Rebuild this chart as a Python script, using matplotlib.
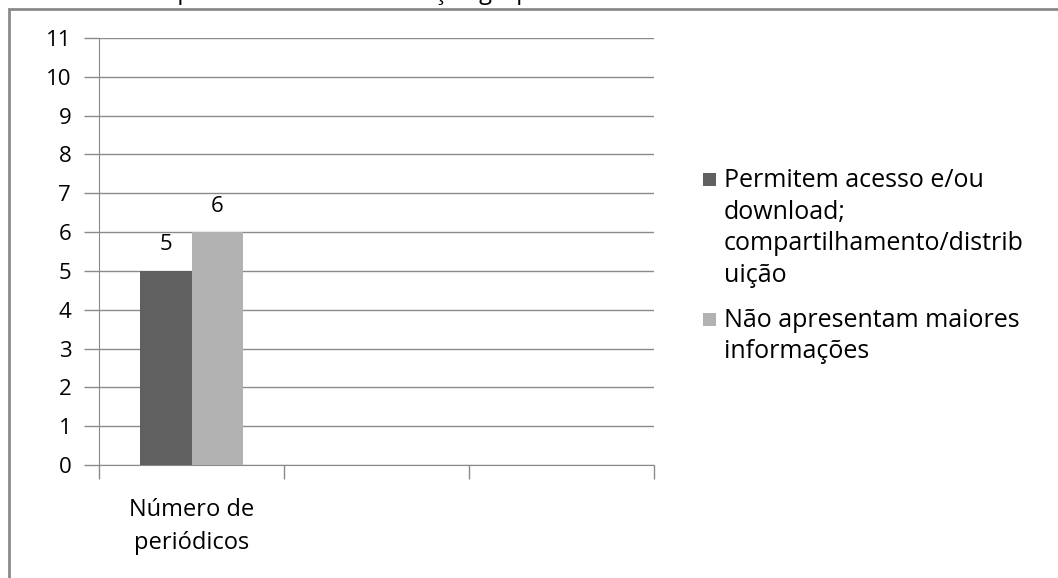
import matplotlib
matplotlib.use("Agg")
import matplotlib.pyplot as plt
from matplotlib.patches import Rectangle
import numpy as np

plt.rcParams["font.family"] = ["Open Sans", "DejaVu Sans"]

# data
categories = ["Número de\nperiódicos", "", ""]
series_names = [
    "Permitem acesso e/ou\ndownload;\ncompartilhamento/distrib\nuição",
    "Não apresentam maiores\ninformações",
]
series_values = [
    [5, np.nan, np.nan],
    [6, np.nan, np.nan],
]
series_colors = ["#606060", "#b2b2b2"]
y_ticks = list(range(0, 12))
title_text = "compartilhamento/distribuição grupo de títulos"

W, H = 1058, 578
fig = plt.figure(figsize=(W / 100, H / 100), dpi=100)
ax = fig.add_axes([99 / W, 113 / H, (654 - 99) / W, (465 - 38) / H])

grid_c = "#8a8a8a"
fs = 17
bar_w = 0.28
x = np.arange(len(categories))
for i, (vals, col) in enumerate(zip(series_values, series_colors)):
    pos = x + (i - 0.5) * bar_w
    ax.bar(pos, vals, width=bar_w, color=col, zorder=3)
    for p, v in zip(pos, vals):
        if not np.isnan(v):
            ax.text(p, v + 0.67, f"{v:g}", ha="center", va="center", fontsize=fs - 1, color="#000000")

ax.set_xlim(-0.5, len(categories) - 0.5)
ax.set_ylim(0, 11)
ax.set_yticks(y_ticks)
ax.tick_params(axis="y", length=11, width=1, color=grid_c, labelsize=fs - 1, pad=9)
ax.yaxis.grid(True, color=grid_c, linewidth=1, zorder=0)

# category ticks sit on the boundaries, labels in the middle
ax.set_xticks(np.arange(len(categories) + 1) - 0.5)
ax.set_xticklabels([])
ax.set_xticks(x, minor=True)
ax.set_xticklabels(categories, minor=True, fontsize=fs, linespacing=1.5)
ax.tick_params(axis="x", which="major", length=10, width=1, color=grid_c)
ax.tick_params(axis="x", which="minor", length=0, pad=24)

for s in ["top", "right"]:
    ax.spines[s].set_visible(False)
ax.spines["left"].set_color(grid_c)
ax.spines["bottom"].set_color(grid_c)

# legend: square swatch next to the first line of each entry
leg_entries = [(series_names[0], series_colors[0], 187), (series_names[1], series_colors[1], 327)]
for label, col, base in leg_entries:
    fig.patches.append(Rectangle((703 / W, 1 - (base - 1) / H), 13 / W, 13 / H,
                                 transform=fig.transFigure, facecolor=col, edgecolor="none"))
    for k, line in enumerate(label.split("\n")):
        fig.text(724 / W, 1 - (base + 31.5 * k) / H, line, fontsize=fs + 1,
                 ha="left", va="baseline", color="#000000")

# outer chart frame
fig.patches.append(Rectangle((9 / W, -0.1), 1.2, 1.1 - 9 / H, transform=fig.transFigure,
                             fill=False, edgecolor="#8a8a8a", linewidth=2))
fig.text(130 / W, 1 + 1 / H, title_text, fontsize=fs, va="baseline", ha="left")

fig.savefig("out.png", dpi=100)
